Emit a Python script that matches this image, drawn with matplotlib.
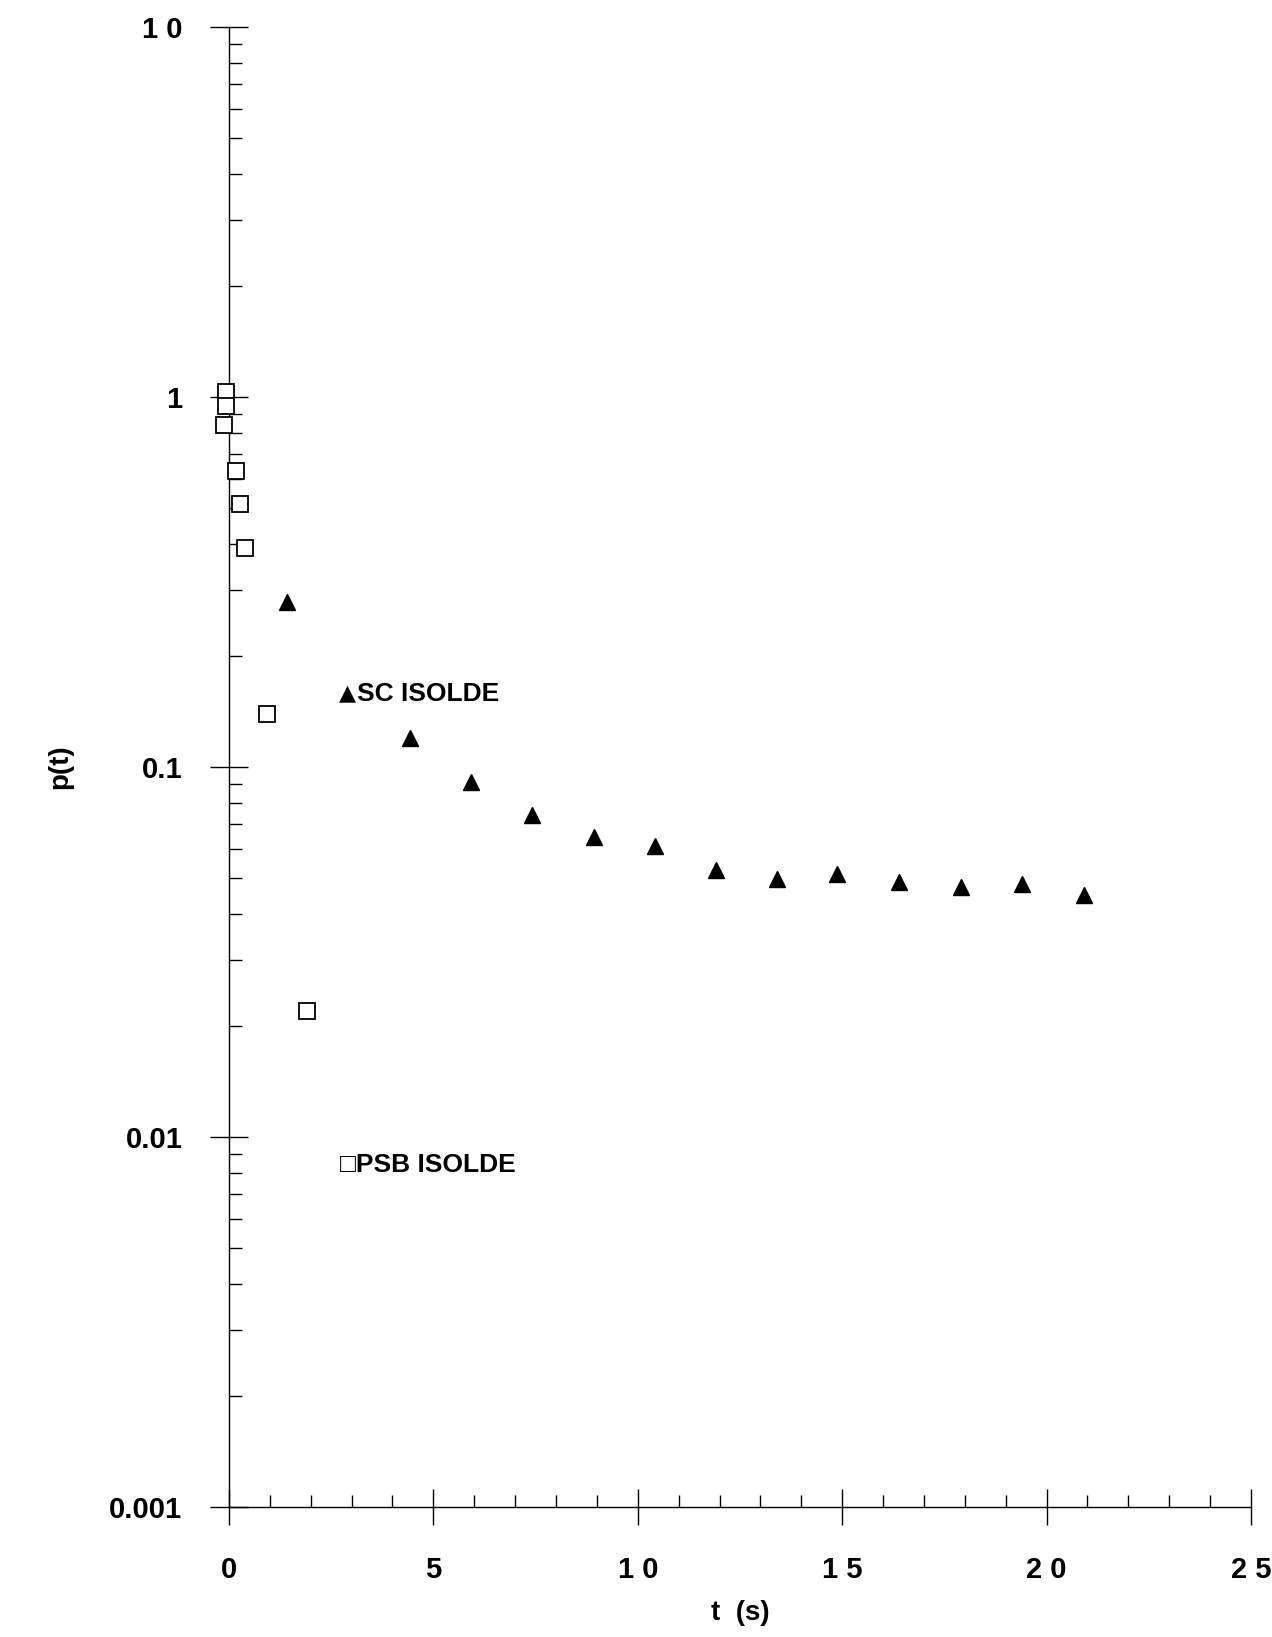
import matplotlib
matplotlib.use("Agg")
import matplotlib.pyplot as plt
from matplotlib.ticker import FixedLocator, FixedFormatter, NullFormatter
import numpy as np

plt.rcParams['font.family'] = ['Liberation Sans', 'DejaVu Sans']
plt.rcParams['font.weight'] = 'bold'

# Data
t_sc = [1.41, 4.42, 5.93, 7.42, 8.93, 10.41, 11.92, 13.40, 14.88, 16.39, 17.90, 19.41, 20.92]
p_sc = [0.280, 0.1196, 0.091, 0.074, 0.0645, 0.0612, 0.0527, 0.0497, 0.0514, 0.0488, 0.0475, 0.0484, 0.0451]

t_psb = [-0.08, -0.07, -0.12, 0.17, 0.27, 0.39, 0.92, 1.92]
p_psb = [1.03, 0.946, 0.84, 0.631, 0.514, 0.391, 0.139, 0.0219]

x_ticks = [0, 5, 10, 15, 20, 25]
x_ticklabels = ["0", "5", "1 0", "1 5", "2 0", "2 5"]
y_ticks = [0.001, 0.01, 0.1, 1, 10]
y_ticklabels = ["0.001", "0.01", "0.1", "1", "1 0"]

fig = plt.figure(figsize=(12.72, 16.37), dpi=100)
ax = fig.add_axes([0.18, 0.0794, 0.8035, 0.9041])

ax.plot(t_psb, p_psb, linestyle='none', marker='s', ms=11, mfc='white', mec='black',
        mew=1.3, clip_on=False, zorder=3)
ax.plot(t_sc, p_sc, linestyle='none', marker='^', ms=11, mfc='black', mec='black',
        clip_on=False, zorder=3)

ax.set_yscale('log')
ax.set_xlim(0, 25)
ax.set_ylim(0.001, 10)

for s in ['top', 'right']:
    ax.spines[s].set_visible(False)
for s in ['left', 'bottom']:
    ax.spines[s].set_linewidth(1.0)

ax.xaxis.set_major_locator(FixedLocator(x_ticks))
ax.xaxis.set_major_formatter(FixedFormatter(x_ticklabels))
ax.xaxis.set_minor_locator(FixedLocator(np.arange(0, 26, 1)))
ax.yaxis.set_major_locator(FixedLocator(y_ticks))
ax.yaxis.set_major_formatter(FixedFormatter(y_ticklabels))
minor_y = [m * 10.0**e for e in range(-3, 1) for m in range(2, 10)]
ax.yaxis.set_minor_locator(FixedLocator(minor_y))
ax.yaxis.set_minor_formatter(NullFormatter())

ax.tick_params(axis='x', which='major', direction='inout', length=26, width=1.0,
               pad=22, labelsize=21)
ax.tick_params(axis='x', which='minor', direction='in', length=9, width=1.0)
ax.tick_params(axis='y', which='major', direction='inout', length=27, width=1.0,
               pad=20, labelsize=21)
ax.tick_params(axis='y', which='minor', direction='in', length=9, width=1.0)
for lab in ax.get_xticklabels() + ax.get_yticklabels():
    lab.set_fontweight('bold')

ax.set_xlabel("t  (s)", fontsize=20, fontweight='bold', labelpad=12)
ax.set_ylabel("p(t)", fontsize=20, fontweight='bold', labelpad=26)

ax.text(3.12, 0.158, "▲", fontsize=16, fontweight='bold', va='center', ha='right',
        family=['DejaVu Sans'])
ax.text(3.12, 0.158, "SC ISOLDE", fontsize=19, fontweight='bold', va='center', ha='left')
ax.text(2.72, 0.00838, "□PSB ISOLDE", fontsize=19, fontweight='bold', va='center', ha='left')

fig.savefig("out.png", dpi=100)
